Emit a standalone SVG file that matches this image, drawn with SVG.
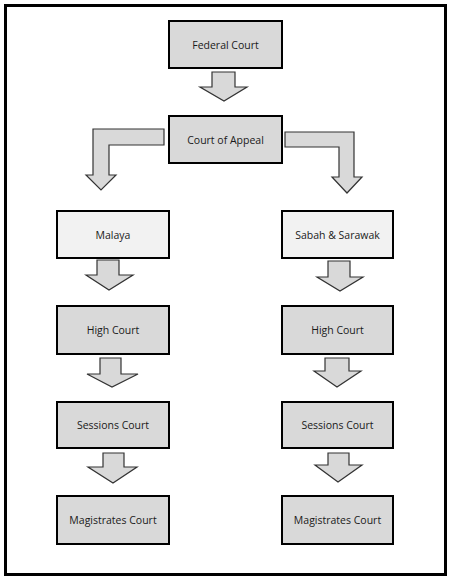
<svg xmlns="http://www.w3.org/2000/svg" width="452" height="582" viewBox="0 0 452 582">
<style>
.frame{fill:#fff;stroke:#000;stroke-width:3}
.box{fill:#d9d9d9;stroke:#000;stroke-width:2}
.lbox{fill:#f2f2f2;stroke:#000;stroke-width:2}
.arr{fill:#d9d9d9;stroke:#333;stroke-width:1.2;stroke-linejoin:miter}
text{font-family:"Open Sans","Liberation Sans",sans-serif;font-size:10.5px;fill:#1a1a1a;text-anchor:middle}
</style>
<rect class="frame" x="5.5" y="5.5" width="440" height="569"/>
<g id="connectors">
<path class="arr" d="M212,72 H235 V87 H247 L224,101 L200,87 H212 Z"/>
<path class="arr" d="M164,129 H93 V175 H86 L101,190 L116,175 H109 V145 H164 Z"/>
<path class="arr" d="M285,132 H354 V177 H362 L347,193 L332,177 H339 V147 H285 Z"/>
<path class="arr" d="M97,260 H119 V275 H133 L109,290 L86,275 H97 Z"/>
<path class="arr" d="M328,261 H350 V277 H363 L340,291 L317,277 H328 Z"/>
<path class="arr" d="M100,358 H121 V374 H138 L112,387 L87,374 H100 Z"/>
<path class="arr" d="M325,358 H349 V371 H361 L337,387 L314,371 H325 Z"/>
<path class="arr" d="M103,453 H124 V467 H137 L113,483 L88,467 H103 Z"/>
<path class="arr" d="M328,453 H349 V465 H362 L338,482 L315,465 H328 Z"/>
</g>
<g id="federal"><rect class="box" x="169" y="21" width="113" height="47"/><text x="225.5" y="49">Federal Court</text></g>
<g id="appeal"><rect class="box" x="169" y="116" width="113" height="47"/><text x="225.5" y="144">Court of Appeal</text></g>
<g id="malaya"><rect class="lbox" x="57" y="211" width="112" height="47"/><text x="113" y="239">Malaya</text></g>
<g id="sabah"><rect class="lbox" x="282" y="211" width="111" height="47"/><text x="337.5" y="239">Sabah &amp; Sarawak</text></g>
<g id="high-left"><rect class="box" x="57" y="306" width="112" height="48"/><text x="113" y="334">High Court</text></g>
<g id="high-right"><rect class="box" x="282" y="306" width="111" height="48"/><text x="337.5" y="334">High Court</text></g>
<g id="sessions-left"><rect class="box" x="57" y="402" width="112" height="46"/><text x="113" y="429">Sessions Court</text></g>
<g id="sessions-right"><rect class="box" x="282" y="402" width="111" height="46"/><text x="337.5" y="429">Sessions Court</text></g>
<g id="magistrates-left"><rect class="box" x="57" y="496" width="112" height="48"/><text x="113" y="524">Magistrates Court</text></g>
<g id="magistrates-right"><rect class="box" x="282" y="496" width="111" height="48"/><text x="337.5" y="524">Magistrates Court</text></g>
</svg>
